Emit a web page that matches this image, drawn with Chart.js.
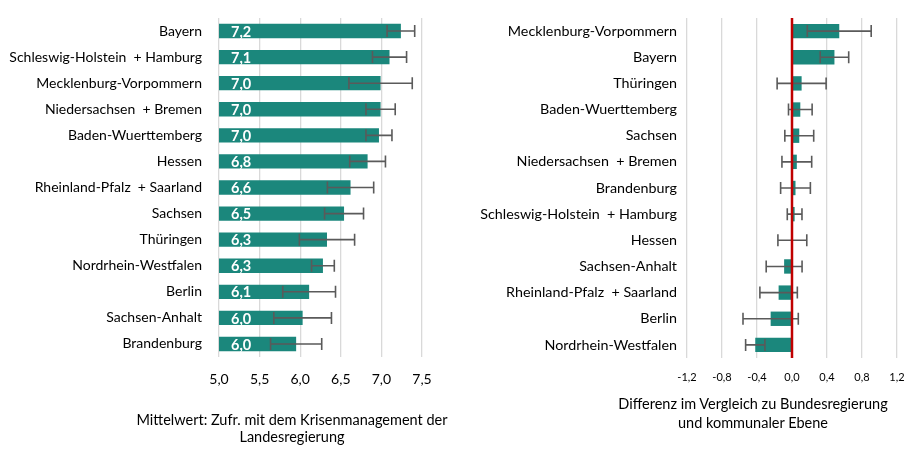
<!DOCTYPE html>
<html>
<head>
<meta charset="utf-8">
<script src="https://cdn.jsdelivr.net/npm/chart.js@4"></script>
<style>
  body { margin: 0; background: #fff; width: 920px; height: 453px; position: relative; overflow: hidden; font-family: Lato, "Open Sans", sans-serif; }
  .box { position: absolute; top: 0; width: 460px; height: 453px; }
  .ttl { position: absolute; text-align: center; font-size: 14.5px; color: #000; white-space: nowrap; }
</style>
</head>
<body>
<div class="box" style="left:0"><canvas id="links" width="460" height="453"></canvas></div>
<div class="box" style="left:460px"><canvas id="rechts" width="460" height="453"></canvas></div>
<div class="ttl" style="left:92px; width:400px; top:411px; line-height:17px">Mittelwert: Zufr. mit dem Krisenmanagement der<br>Landesregierung</div>
<div class="ttl" style="left:553px; width:400px; top:395px; line-height:18.5px">Differenz im Vergleich zu Bundesregierung<br>und kommunaler Ebene</div>
<script>
// linke Grafik: Mittelwerte
const laenderLinks = ['Bayern', 'Schleswig-Holstein  + Hamburg', 'Mecklenburg-Vorpommern', 'Niedersachsen  + Bremen',
  'Baden-Wuerttemberg', 'Hessen', 'Rheinland-Pfalz  + Saarland', 'Sachsen', 'Thüringen', 'Nordrhein-Westfalen',
  'Berlin', 'Sachsen-Anhalt', 'Brandenburg'];
const mittelwerte = [7.24, 7.10, 6.99, 6.99, 6.97, 6.83, 6.62, 6.54, 6.33, 6.28, 6.11, 6.03, 5.95];
const fehlerLinks = [0.17, 0.21, 0.39, 0.18, 0.16, 0.22, 0.285, 0.24, 0.34, 0.14, 0.325, 0.355, 0.315];
const labelsLinks = ['7,2', '7,1', '7,0', '7,0', '7,0', '6,8', '6,6', '6,5', '6,3', '6,3', '6,1', '6,0', '6,0'];

// rechte Grafik: Differenzen
const laenderRechts = ['Mecklenburg-Vorpommern', 'Bayern', 'Thüringen', 'Baden-Wuerttemberg', 'Sachsen',
  'Niedersachsen  + Bremen', 'Brandenburg', 'Schleswig-Holstein  + Hamburg', 'Hessen', 'Sachsen-Anhalt',
  'Rheinland-Pfalz  + Saarland', 'Berlin', 'Nordrhein-Westfalen'];
const differenzen = [0.54, 0.485, 0.11, 0.095, 0.083, 0.055, 0.04, 0.03, 0.004, -0.09, -0.153, -0.244, -0.42];
const fehlerRechts = [0.365, 0.163, 0.28, 0.135, 0.165, 0.17, 0.17, 0.084, 0.165, 0.205, 0.214, 0.316, 0.11];

const teal = '#1b877c';
const komma = v => Number(v).toFixed(1).replace('.', ',');

// Fehlerbalken zeichnen
const fehlerPlugin = {
  id: 'fehler',
  afterDatasetsDraw(chart, args, opts) {
    const ctx = chart.ctx, xs = chart.scales.x;
    const meta = chart.getDatasetMeta(0);
    const werte = chart.data.datasets[0].data;
    ctx.save();
    ctx.strokeStyle = '#5a5a5a';
    ctx.lineWidth = 1.6;
    meta.data.forEach((bar, i) => {
      const x1 = xs.getPixelForValue(werte[i] - opts.err[i]);
      const x2 = xs.getPixelForValue(werte[i] + opts.err[i]);
      const y = bar.y;
      ctx.beginPath();
      ctx.moveTo(x1, y); ctx.lineTo(x2, y);
      ctx.moveTo(x1, y - 6); ctx.lineTo(x1, y + 6);
      ctx.moveTo(x2, y - 6); ctx.lineTo(x2, y + 6);
      ctx.stroke();
    });
    ctx.restore();
  }
};

// weisse Werte in den Balken
const wertPlugin = {
  id: 'werte',
  afterDatasetsDraw(chart, args, opts) {
    if (!opts.labels) return;
    const ctx = chart.ctx;
    ctx.save();
    ctx.fillStyle = '#fff';
    ctx.font = 'bold 14.5px Lato, sans-serif';
    ctx.textBaseline = 'middle';
    chart.getDatasetMeta(0).data.forEach((bar, i) => {
      ctx.fillText(opts.labels[i], chart.chartArea.left + 12, bar.y + 1);
    });
    ctx.restore();
  }
};

// rote Nulllinie
const nullPlugin = {
  id: 'nulllinie',
  afterDatasetsDraw(chart, args, opts) {
    if (!opts.show) return;
    const ctx = chart.ctx, x = chart.scales.x.getPixelForValue(0);
    ctx.save();
    ctx.strokeStyle = '#c00000';
    ctx.lineWidth = 2.5;
    ctx.beginPath();
    ctx.moveTo(x, chart.chartArea.top);
    ctx.lineTo(x, chart.chartArea.bottom);
    ctx.stroke();
    ctx.restore();
  }
};

let plot = (id, labels, data, err, opt) => {
  const ctx = document.getElementById(id);
  return new Chart(ctx, {
    type: 'bar',
    data: {
      labels: labels,
      datasets: [{
        data: data,
        backgroundColor: teal,
        barPercentage: 0.55,
        categoryPercentage: 1
      }]
    },
    options: {
      indexAxis: 'y',
      responsive: false,
      animation: false,
      layout: { autoPadding: false, padding: { top: 18, right: opt.right, bottom: 0, left: 0 } },
      plugins: {
        legend: { display: false },
        tooltip: { enabled: false },
        fehler: { err: err },
        werte: { labels: opt.valueLabels },
        nulllinie: { show: opt.nullLine }
      },
      scales: {
        x: {
          min: opt.min, max: opt.max,
          afterFit: s => { s.height = opt.xh; },
          ticks: {
            stepSize: opt.step,
            padding: opt.tickPad,
            color: '#000',
            font: { family: 'Lato', size: opt.tickSize },
            callback: v => komma(v)
          },
          grid: { color: '#d9d9d9', lineWidth: 1.3, drawTicks: false },
          border: { display: false }
        },
        y: {
          // feste Breite, kein Extra-Abstand oben/unten
          afterFit: s => { s.width = opt.yw; s.paddingTop = 0; s.paddingBottom = 0; },
          ticks: { padding: opt.labelPad, color: '#000', font: { family: 'Lato', size: opt.labelSize } },
          grid: { display: false, drawTicks: false },
          border: { display: false }
        }
      }
    },
    plugins: [fehlerPlugin, wertPlugin, nullPlugin]
  });
};

plot('links', laenderLinks, mittelwerte, fehlerLinks,
  { min: 5, max: 7.5, step: 0.5, right: 38, xh: 96, yw: 219, labelPad: 17, tickPad: 14, tickSize: 14,
    labelSize: 14, valueLabels: labelsLinks, nullLine: false });
plot('rechts', laenderRechts, differenzen, fehlerRechts,
  { min: -1.2, max: 1.2, step: 0.4, right: 23, xh: 95, yw: 227, labelPad: 10, tickPad: 13, tickSize: 11,
    labelSize: 14.3, valueLabels: null, nullLine: true });
</script>
</body>
</html>
